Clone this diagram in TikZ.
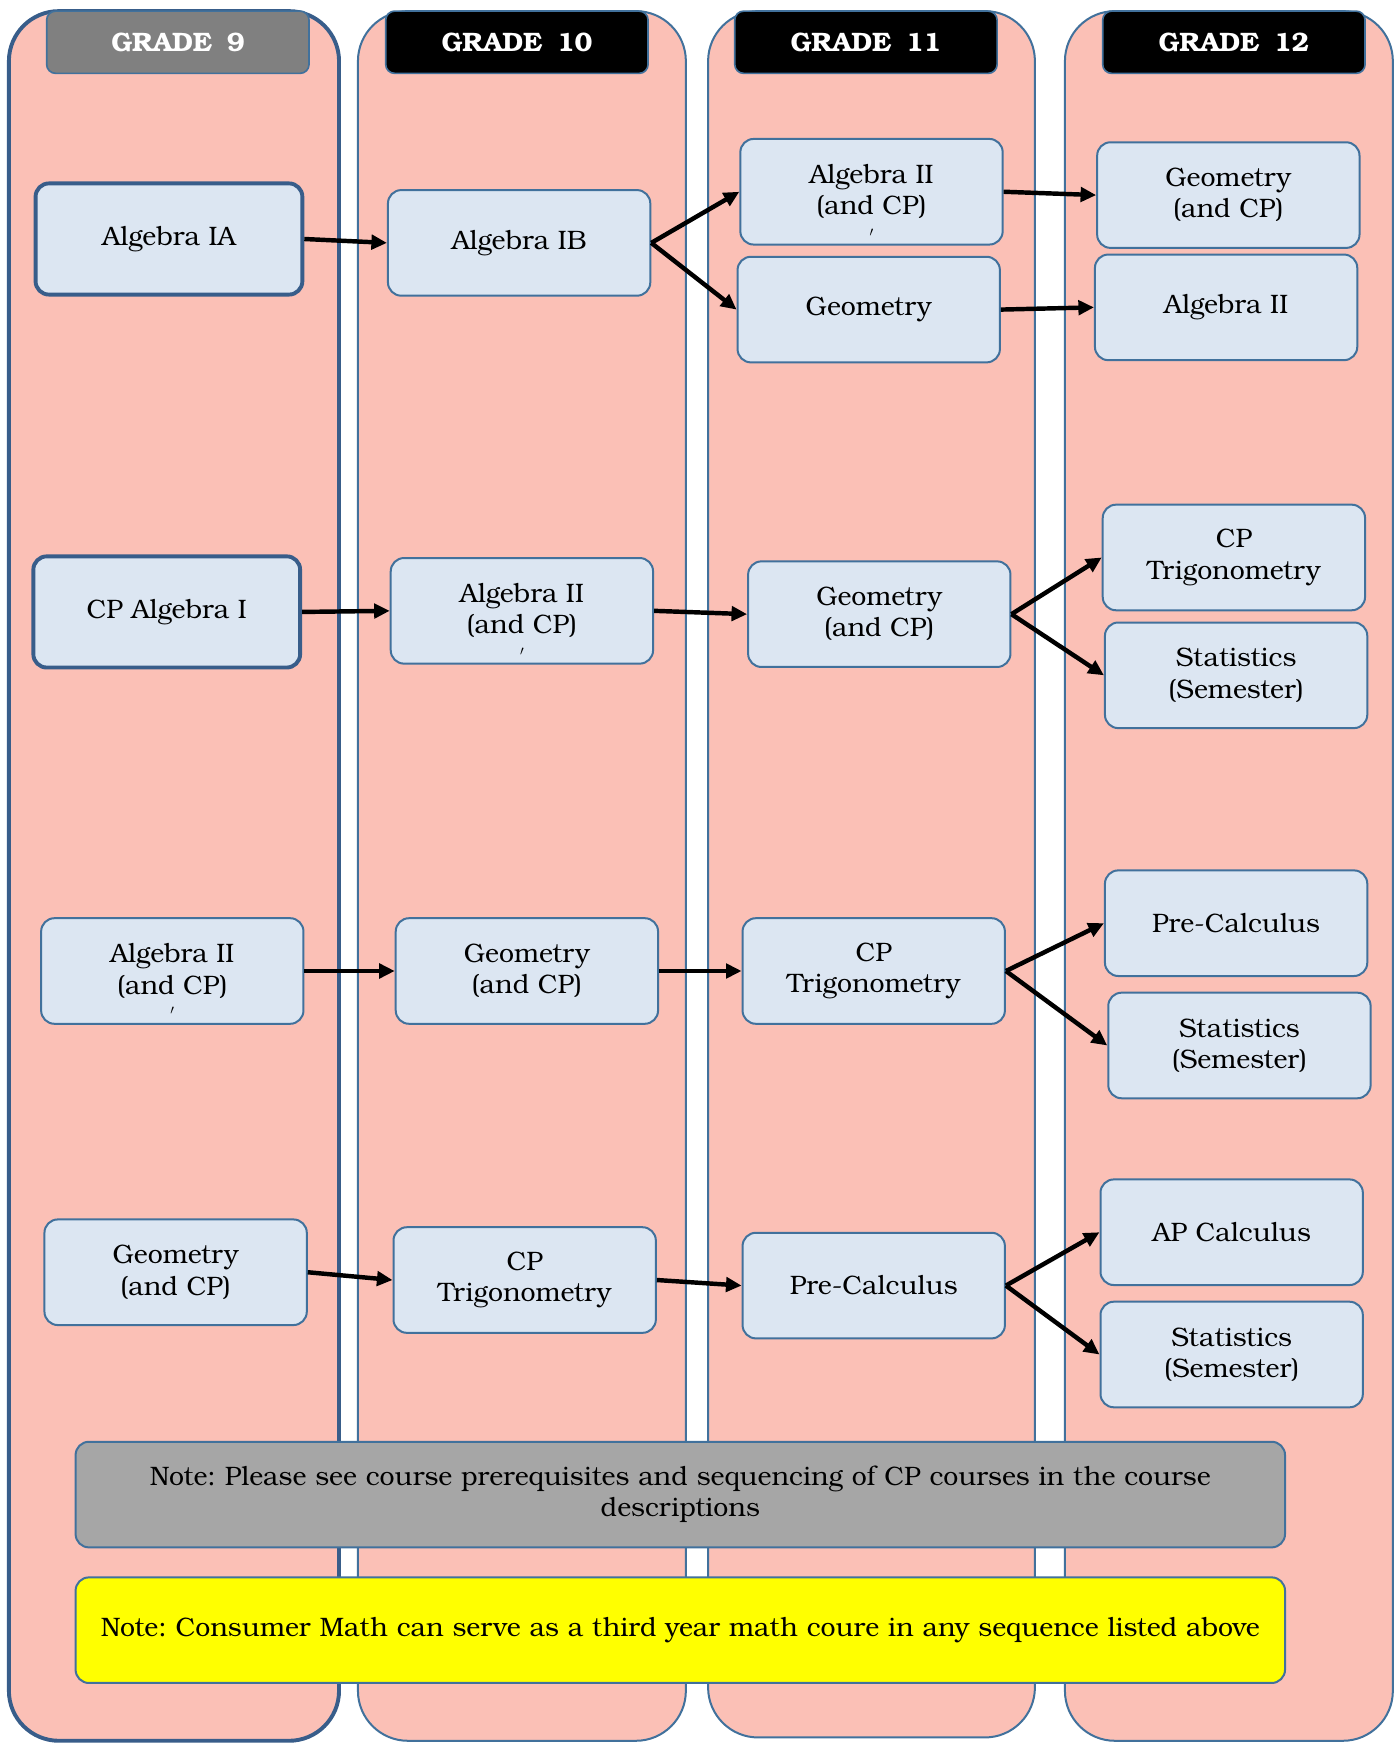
\documentclass[tikz,border=0pt]{standalone}
\usepackage{fontspec}
\setmainfont{TeX Gyre Bonum}
\usetikzlibrary{arrows.meta}
\definecolor{pinkbg}{RGB}{251,192,182}
\definecolor{edgeblue}{RGB}{65,113,156}
\definecolor{darkblue}{RGB}{56,93,138}
\definecolor{boxfill}{RGB}{220,230,242}
\definecolor{hdrgray}{RGB}{128,128,128}
\definecolor{notegray}{RGB}{166,166,166}
\definecolor{noteyellow}{RGB}{255,255,0}
\frenchspacing
\begin{document}
\begin{tikzpicture}[x=1pt,y=-1pt,
  col/.style={draw=edgeblue, fill=pinkbg, line width=1.8pt, rounded corners=45pt},
  hdr/.style={draw=edgeblue, line width=1.5pt, rounded corners=8pt, minimum width=236pt, minimum height=56pt, text=white, font=\fontsize{24}{28}\selectfont\bfseries, inner sep=0pt},
  course/.style={draw=edgeblue, fill=boxfill, line width=1.8pt, rounded corners=12pt, minimum width=236pt, minimum height=95pt, align=center, font=\fontsize{24}{28}\selectfont, inner sep=2pt},
  keycourse/.style={course, draw=darkblue, line width=3.5pt, minimum width=240pt, minimum height=100pt},
  notebox/.style={course, minimum width=1088pt, text width=1070pt},
  arr/.style={-{Triangle[length=14pt,width=13pt]}, line width=4pt, black},
  tickmark/.style={font=\fontsize{12}{12}\selectfont, inner sep=0pt}
]
\fill[white] (0,0) rectangle (1259,1568);
\useasboundingbox (0,0) rectangle (1259,1568);

% columns
\draw[col, draw=darkblue, line width=3.5pt] (8,10) rectangle (305,1566);
\draw[col] (322,10) rectangle (617,1566);
\draw[col] (637,10) rectangle (931,1563);
\draw[col] (958,10) rectangle (1253,1566);

% headers
\node[hdr, fill=hdrgray] (h9) at (160,38) {GRADE\hspace{0.55em}9};
\node[hdr, fill=black] (h10) at (465,38) {GRADE\hspace{0.55em}10};
\node[hdr, fill=black] (h11) at (779,38) {GRADE\hspace{0.55em}11};
\node[hdr, fill=black] (h12) at (1110,38) {GRADE\hspace{0.55em}12};

% row 1
\node[keycourse] (a1) at (152,215) {Algebra IA};
\node[course] (b1) at (467,218.5) {Algebra IB};
\node[course] (c1) at (784,172.5) {Algebra II\\(and CP)};
\node[course] (c2) at (781.5,278.5) {Geometry};
\node[course] (d1) at (1105,175.5) {Geometry\\(and CP)};
\node[course] (d2) at (1103,276.5) {Algebra II};

% row 2
\node[keycourse] (a2) at (150,550.5) {CP Algebra I};
\node[course] (b2) at (469.5,549.5) {Algebra II\\(and CP)};
\node[course] (c3) at (791,552.5) {Geometry\\(and CP)};
\node[course] (d3) at (1110,501.5) {CP\\Trigonometry};
\node[course] (d4) at (1112,607.5) {Statistics\\(Semester)};

% row 3
\node[course] (a3) at (155,873.5) {Algebra II\\(and CP)};
\node[course] (b3) at (474,873.5) {Geometry\\(and CP)};
\node[course] (c4) at (786,873.5) {CP\\Trigonometry};
\node[course] (d5) at (1112,830.5) {Pre-Calculus};
\node[course] (d6) at (1115,940.5) {Statistics\\(Semester)};

% row 4
\node[course] (a4) at (158,1144.5) {Geometry\\(and CP)};
\node[course] (b4) at (472,1151.5) {CP\\Trigonometry};
\node[course] (c5) at (786,1156.5) {Pre-Calculus};
\node[course] (d7) at (1108,1108.5) {AP Calculus};
\node[course] (d8) at (1108,1218.5) {Statistics\\(Semester)};

% stray tick marks
\node[tickmark] (t1) at ([yshift=-37pt]c1.center) {$\prime$};
\node[tickmark] (t2) at ([yshift=-37pt]b2.center) {$\prime$};
\node[tickmark] (t3) at ([yshift=-36pt]a3.center) {$\prime$};

% notes
\node[notebox, fill=notegray] (n1) at (612,1344.5) {Note: Please see course prerequisites and sequencing of CP courses in the course\\descriptions};
\node[notebox, fill=noteyellow] (n2) at (612,1466.5) {Note: Consumer Math can serve as a third year math coure in any sequence listed above};

% arrows
\draw[arr] (a1.east) -- (b1.west);
\draw[arr] (b1.east) -- (c1.west);
\draw[arr] (b1.east) -- (c2.west);
\draw[arr] (c1.east) -- (d1.west);
\draw[arr] (c2.east) -- (d2.west);

\draw[arr] (a2.east) -- (b2.west);
\draw[arr] (b2.east) -- (c3.west);
\draw[arr] (c3.east) -- (d3.west);
\draw[arr] (c3.east) -- (d4.west);

\draw[arr] (a3.east) -- (b3.west);
\draw[arr] (b3.east) -- (c4.west);
\draw[arr] (c4.east) -- (d5.west);
\draw[arr] (c4.east) -- (d6.west);

\draw[arr] (a4.east) -- (b4.west);
\draw[arr] (b4.east) -- (c5.west);
\draw[arr] (c5.east) -- (d7.west);
\draw[arr] (c5.east) -- (d8.west);
\end{tikzpicture}
\end{document}
